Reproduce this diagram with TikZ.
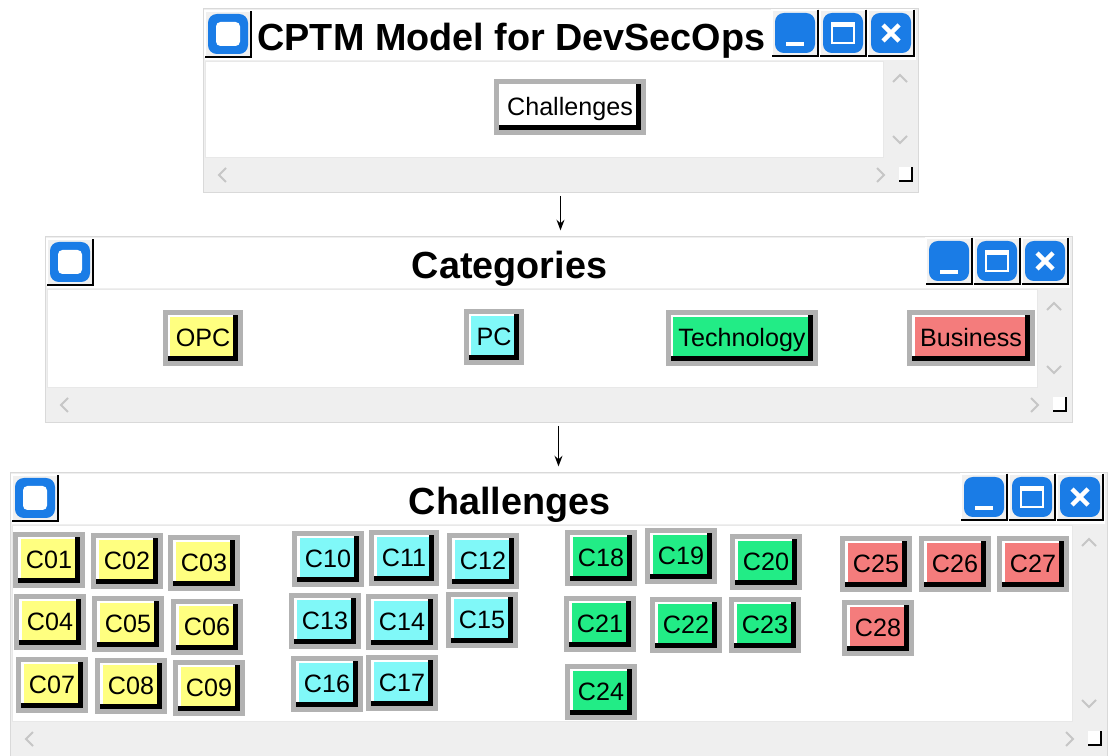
\documentclass[tikz,border=0pt]{standalone}
\usepackage{fontspec}
\setmainfont{Liberation Sans}
\usetikzlibrary{fit,arrows.meta}

\definecolor{opcyellow}{HTML}{FFFF80}
\definecolor{pccyan}{HTML}{80F8F8}
\definecolor{techgreen}{HTML}{22EC86}
\definecolor{busred}{HTML}{F47C7C}
\definecolor{ringgray}{HTML}{B2B2B2}
\definecolor{barblue}{HTML}{1A7CE6}
\definecolor{scrollgray}{HTML}{EFEFEF}

% window chrome: name, x1, y1, x2, y2, title
\newcommand{\appwindow}[6]{%
  \node[winframe, fit={(#2,#3) (#4,#5)}] (#1) {};
  \fill[white] (#2+2,#3+2) rectangle (#4-2,#3+52);
  \draw[panel] (#2+2,#3+53) rectangle (#4-35,#5-35);
  % scroll bar marks
  \draw[chev] (#4-25,#3+74) -- (#4-18,#3+67) -- (#4-11,#3+74);
  \draw[chev] (#4-25,#5-56) -- (#4-18,#5-49) -- (#4-11,#5-56);
  \draw[chev] (#2+23,#5-24) -- (#2+16,#5-17) -- (#2+23,#5-10);
  \draw[chev] (#4-41,#5-24) -- (#4-34,#5-17) -- (#4-41,#5-10);
  \fill[white] (#4-19,#5-25) rectangle (#4-6,#5-11);
  \draw[black, line width=1pt] (#4-19,#5-11) -- (#4-6,#5-11) -- (#4-6,#5-25);
  % title bar buttons
  \pic at (#2+2,#3+3) {appicon};
  \pic at (#4-146,#3+2) {minbtn};
  \pic at (#4-98,#3+2) {maxbtn};
  \pic at (#4-50,#3+2) {closebtn};
  \node[wintitle] (#1-title) at ({(#2+#4-98)/2},#3+43) {#6};
}

\tikzset{
  pics/ctrlframe/.style={code={
    \fill[gray!12] (0,0) rectangle (46,46);
    \draw[white, line width=0.8pt] (0,46) -- (0,0) -- (46,0);
    \draw[black, line width=1pt] (0,46) -- (46,46) -- (46,0);
    \fill[barblue, rounded corners=5pt] (3,3) rectangle (43,43);
  }},
  pics/appicon/.style={code={
    \pic {ctrlframe};
    \fill[white, rounded corners=2.5pt] (11,11) rectangle (35,35);
  }},
  pics/minbtn/.style={code={
    \pic {ctrlframe};
    \draw[white, line width=2pt] (14,34) -- (32,34);
  }},
  pics/maxbtn/.style={code={
    \pic {ctrlframe};
    \draw[white, line width=1.6pt] (12,13) rectangle (34,33);
    \fill[white] (12,13) rectangle (34,17);
  }},
  pics/closebtn/.style={code={
    \pic {ctrlframe};
    \draw[white, line width=2.6pt] (15,15) -- (31,31) (31,15) -- (15,31);
  }}
}

\begin{document}
\begin{tikzpicture}[x=0.02cm, y=-0.02cm,
    winframe/.style={draw=gray!30, fill=scrollgray, inner sep=0pt},
    panel/.style={draw=gray!18, fill=white},
    chev/.style={draw=gray!45, line width=1.1pt},
    wintitle/.style={anchor=base, font=\fontsize{21.5}{24}\selectfont\bfseries},
    btn/.style={rectangle, fill=#1, draw=ringgray, line width=2.85pt,
      inner xsep=5.8pt, inner ysep=0pt, minimum height=29.5pt,
      text height=10.2pt, text depth=0pt, font=\fontsize{14.3}{16}\selectfont,
      path picture={
        \draw[white, line width=5.5pt] (path picture bounding box.south west)
          -- (path picture bounding box.north west) -- (path picture bounding box.north east);
        \draw[black, line width=8.5pt] (path picture bounding box.south west)
          -- (path picture bounding box.south east) -- (path picture bounding box.north east);
      }},
    link/.style={-{Stealth[length=6pt,width=4.5pt]}, line width=0.7pt,
      shorten <=2pt, shorten >=3pt}]
  \useasboundingbox (0,0) rectangle (1109,756);

  % Top window
  \appwindow{topwin}{203}{8}{918}{192}{CPTM Model for DevSecOps}
  \node[btn=white] (chbtn) at (570,107) {Challenges};

  % Categories window
  \appwindow{catwin}{45}{236}{1072}{422}{Categories}
  \node[btn=opcyellow] (opc) at (203,338) {OPC};
  \node[btn=pccyan] (pc) at (494,337) {PC};
  \node[btn=techgreen] (tech) at (742,338) {Technology};
  \node[btn=busred] (bus) at (971,338) {Business};

  % Challenges window
  \appwindow{chalwin}{10}{472}{1107}{756}{Challenges}
  \foreach \n/\x/\y in {01/49/560, 02/127/561, 03/204/563, 04/50/622, 05/128/624,
      06/207/627, 07/52/685, 08/131/686, 09/209/688}
    \node[btn=opcyellow] (c\n) at (\x,\y) {C\n};
  \foreach \n/\x/\y in {10/328/559, 11/404/558, 12/483/561, 13/325/621, 14/402/622,
      15/482/620, 16/327/684, 17/402/683}
    \node[btn=pccyan] (c\n) at (\x,\y) {C\n};
  \foreach \n/\x/\y in {18/601/558, 19/681/556, 20/766/562, 21/600/624, 22/686/625,
      23/765/625, 24/601/692}
    \node[btn=techgreen] (c\n) at (\x,\y) {C\n};
  \foreach \n/\x/\y in {25/876/564, 26/955/564, 27/1033/564, 28/878/628}
    \node[btn=busred] (c\n) at (\x,\y) {C\n};

  % Drill-down arrows
  \draw[link] (topwin.south) -- (catwin.north -| topwin.south);
  \draw[link] (catwin.south) -- (chalwin.north);
\end{tikzpicture}
\end{document}
